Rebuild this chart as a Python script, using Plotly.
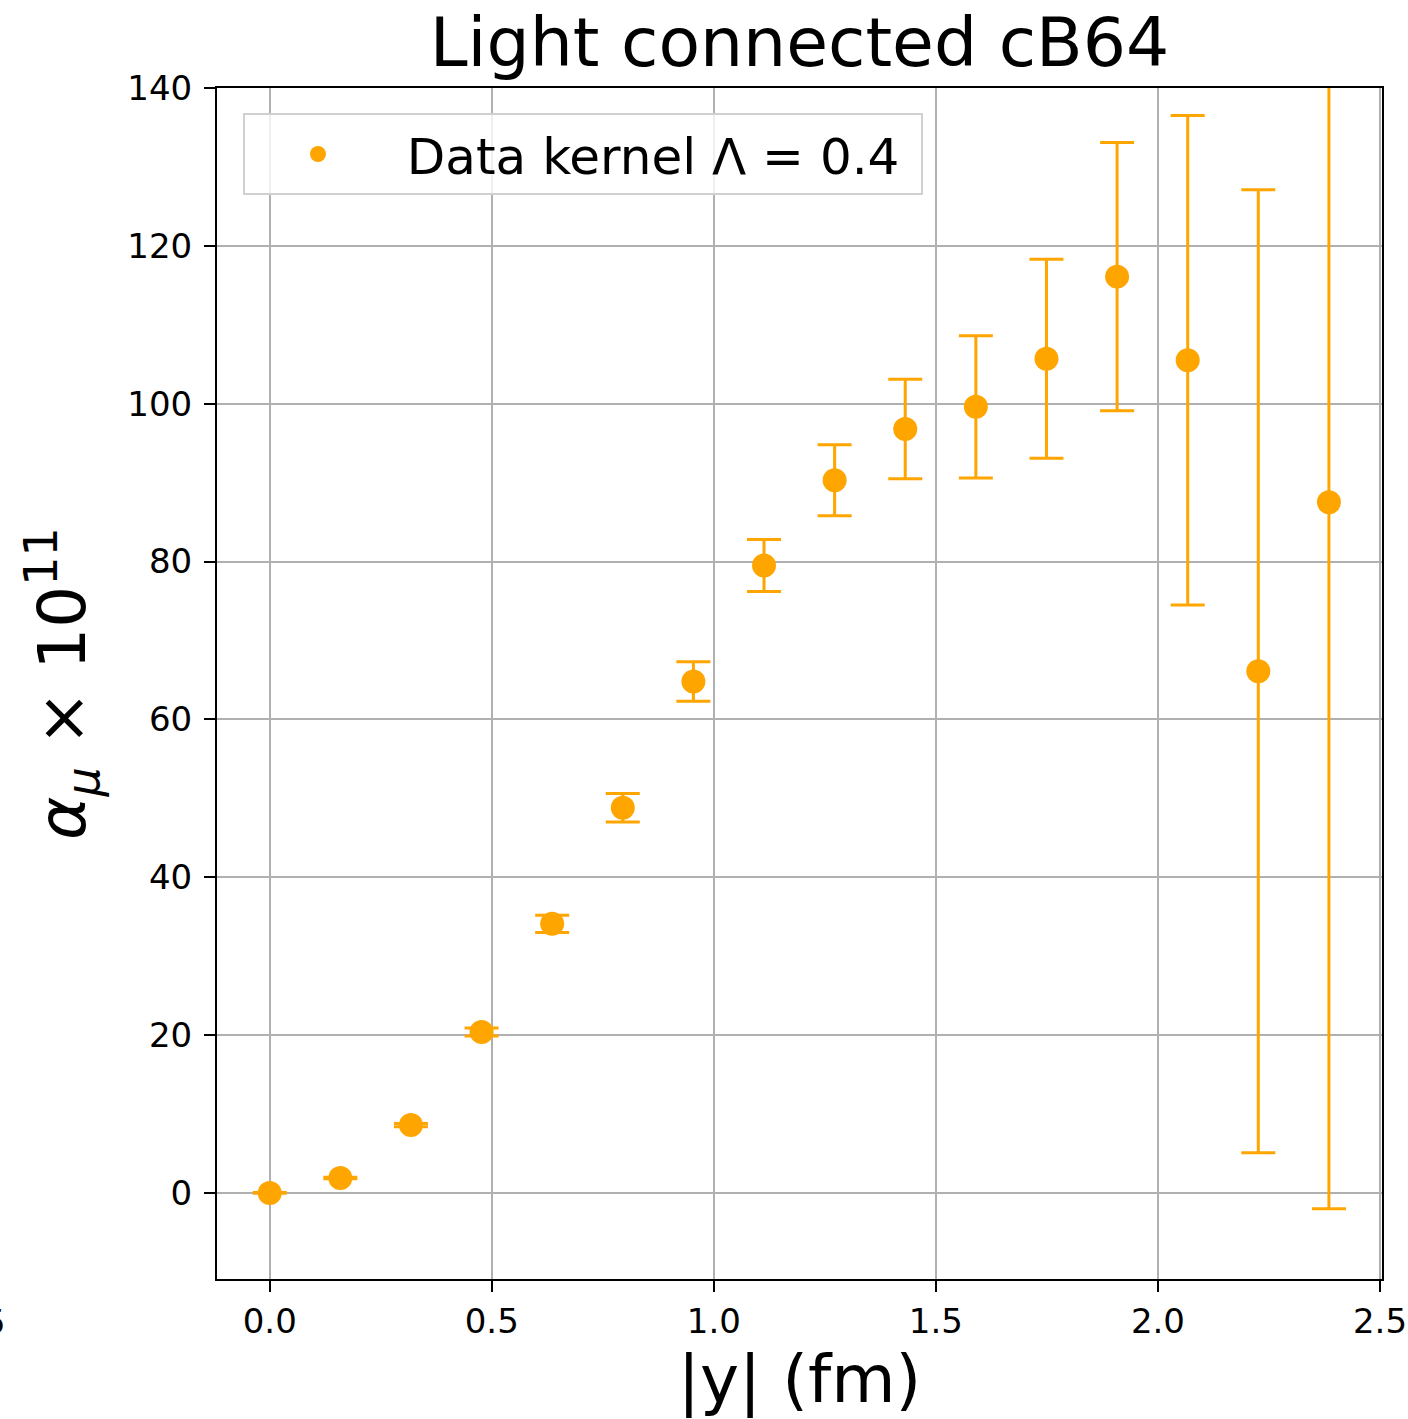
import plotly.graph_objects as go

# distance |y| in fm
y_dist = [0.0, 0.159, 0.318, 0.477, 0.636, 0.795, 0.954, 1.113,
          1.272, 1.431, 1.590, 1.749, 1.908, 2.067, 2.226, 2.385]
# a_mu x 10^11
a_mu = [0.0, 1.9, 8.6, 20.4, 34.1, 48.8, 64.8, 79.5,
        90.3, 96.8, 99.6, 105.7, 116.1, 105.5, 66.1, 87.5]
a_err = [0.05, 0.1, 0.2, 0.5, 1.1, 1.8, 2.5, 3.3,
         4.5, 6.3, 9.0, 12.6, 17.0, 31.0, 61.0, 89.5]

x_ticks = [0.0, 0.5, 1.0, 1.5, 2.0, 2.5]
y_ticks = [0, 20, 40, 60, 80, 100, 120, 140]

ORANGE = "#ffa500"
FONT = "DejaVu Sans"
NB = "\u00a0"

fig = go.Figure()
fig.add_trace(go.Scatter(
    x=y_dist, y=a_mu, mode="markers",
    name=NB + "Data kernel Λ = 0.4" + NB,
    marker=dict(color=ORANGE, size=24, line=dict(width=0)),
    error_y=dict(type="data", array=a_err, visible=True,
                 color=ORANGE, thickness=3, width=17),
))

axis_common = dict(
    showgrid=True, gridcolor="#b0b0b0", gridwidth=2,
    showline=True, linecolor="black", linewidth=2, mirror=True,
    ticks="outside", ticklen=11, tickwidth=2, tickcolor="black",
    zeroline=False, automargin=False,
    tickfont=dict(family=FONT, size=34, color="black"),
)

fig.update_xaxes(range=[-0.1187, 2.5045], tickvals=x_ticks,
                 ticktext=[f"{v:.1f}" for v in x_ticks],
                 title=dict(text="|y| (fm)", font=dict(family=FONT, size=66, color="black"), standoff=16),
                 ticklabelstandoff=0,
                 **axis_common)
fig.update_yaxes(range=[-10.9, 140], tickvals=y_ticks,
                 ticktext=[str(v) for v in y_ticks],
                 title=dict(text="<i>α</i><sub><i>μ</i></sub> × 10<sup>11</sup>",
                            font=dict(family=FONT, size=66, color="black"), standoff=20),
                 ticklabelstandoff=5,
                 **axis_common)

fig.update_layout(
    width=1408, height=1419,
    margin=dict(l=217, r=26, t=88, b=140, autoexpand=False),
    paper_bgcolor="white", plot_bgcolor="white",
    font=dict(family=FONT, color="black"),
    title=dict(text="Light connected cB64", x=0.5, xref="paper", xanchor="center",
               y=1 - 18 / 1419, yref="container", yanchor="top",
               font=dict(family=FONT, size=68, color="black")),
    showlegend=True,
    legend=dict(x=0.0223, y=0.979, xanchor="left", yanchor="top",
                bgcolor="rgba(255,255,255,0.8)", bordercolor="#d0d0d0", borderwidth=2,
                font=dict(family=FONT, size=50, color="black"), itemwidth=136),
)

fig.add_annotation(text="−0.5", xref="paper", yref="paper",
                   x=(8 - 217) / 1165, y=-0.018, xanchor="right", yanchor="top",
                   showarrow=False, font=dict(family=FONT, size=34, color="black"))

fig.write_html("out.html")
